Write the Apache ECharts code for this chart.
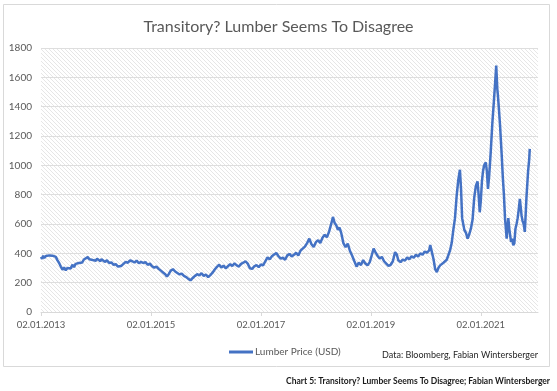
<!DOCTYPE html>
<html><head><meta charset="utf-8">
<script src="https://cdn.jsdelivr.net/npm/echarts@6/dist/echarts.min.js"></script>
<style>html,body{margin:0;padding:0;background:#fff}#c{width:557px;height:391px}</style>
</head><body><div id="c"></div>
<script>
// Decimal-year positions of the samples
const years = [
2013.00,2013.02,2013.04,2013.06,2013.09,2013.12,2013.15,2013.18,2013.21,2013.24,2013.27,2013.30,2013.33,2013.36,2013.39,2013.42,2013.45,2013.48,2013.51,2013.54,2013.57,2013.60,2013.63,2013.66,2013.69,2013.72,2013.75,2013.78,2013.81,2013.85,2013.88,2013.91,2013.94,2013.97,
2014.00,2014.02,2014.04,2014.08,2014.10,2014.12,2014.16,2014.20,2014.24,2014.28,2014.32,2014.36,2014.40,2014.43,2014.46,2014.50,2014.54,2014.58,2014.62,2014.66,2014.70,2014.74,2014.78,2014.82,2014.86,2014.90,2014.94,2014.98,
2015.02,2015.06,2015.10,2015.14,2015.18,2015.22,2015.26,2015.29,2015.32,2015.36,2015.40,2015.44,2015.48,2015.52,2015.56,2015.60,2015.64,2015.68,2015.72,2015.76,2015.80,2015.84,2015.88,2015.92,2015.96,
2016.00,2016.04,2016.08,2016.12,2016.16,2016.20,2016.24,2016.28,2016.32,2016.36,2016.40,2016.44,2016.48,2016.52,2016.56,2016.60,2016.64,2016.68,2016.72,2016.76,2016.80,2016.84,2016.88,2016.92,2016.96,
2017.00,2017.04,2017.08,2017.12,2017.16,2017.20,2017.24,2017.28,2017.32,2017.36,2017.40,2017.44,2017.48,2017.52,2017.56,2017.60,2017.64,2017.68,2017.72,2017.76,2017.80,2017.84,2017.88,2017.92,2017.96,
2018.00,2018.04,2018.08,2018.12,2018.16,2018.20,2018.24,2018.28,2018.31,2018.34,2018.37,2018.40,2018.43,2018.46,2018.50,2018.54,2018.58,2018.62,2018.66,2018.70,2018.74,2018.78,2018.82,2018.86,2018.90,2018.94,2018.98,
2019.02,2019.05,2019.08,2019.12,2019.16,2019.20,2019.24,2019.28,2019.32,2019.36,2019.40,2019.44,2019.47,2019.50,2019.54,2019.58,2019.62,2019.66,2019.70,2019.74,2019.78,2019.82,2019.86,2019.90,2019.94,2019.98,
2020.02,2020.06,2020.08,2020.11,2020.14,2020.17,2020.20,2020.23,2020.26,2020.29,2020.32,2020.35,2020.38,2020.41,2020.44,2020.47,2020.50,2020.53,2020.56,2020.59,2020.62,2020.64,2020.66,2020.68,2020.70,2020.73,2020.76,2020.79,2020.82,2020.85,2020.88,2020.91,2020.94,2020.96,2020.98,
2021.00,2021.02,2021.04,2021.06,2021.09,2021.11,2021.13,2021.15,2021.18,2021.21,2021.24,2021.26,2021.28,2021.30,2021.31,2021.33,2021.35,2021.38,2021.40,2021.42,2021.44,2021.47,2021.50,2021.52,2021.55,2021.57,2021.59,2021.61,2021.63,2021.65,2021.67,2021.69,2021.71,2021.73,2021.74,2021.76,2021.78,2021.80,2021.82,2021.83,2021.85,2021.86,2021.88,2021.89
];
// Lumber price (USD) at those positions
const prices = [
376,362,384,368,382,394,386,398,384,393,376,352,334,310,288,304,284,300,312,296,322,306,328,316,334,346,338,358,350,374,360,368,354,366,
350,364,352,346,360,358,342,352,334,338,322,326,310,300,314,328,342,336,352,346,338,350,332,342,334,340,322,330,
312,302,310,294,282,270,258,242,256,282,292,276,266,256,262,246,238,226,216,232,246,258,250,264,246,
256,238,252,268,290,308,322,304,316,298,312,326,314,332,318,310,328,336,346,330,298,294,312,320,306,
324,318,346,372,360,380,392,402,380,364,370,356,386,396,378,390,404,386,418,432,446,470,500,462,444,
476,490,470,506,526,510,548,602,648,608,592,560,576,540,470,442,466,416,384,346,310,336,320,354,330,318,340,
392,432,410,384,364,376,346,330,314,322,346,408,394,352,340,358,350,372,360,380,370,390,378,400,390,412,
404,420,456,408,360,292,272,302,318,310,336,326,356,364,420,470,560,640,790,900,970,840,640,600,560,540,500,530,570,630,780,860,890,800,680,
760,890,960,1000,1020,960,840,920,1090,1290,1450,1560,1680,1520,1480,1380,1270,1070,920,800,640,500,640,560,478,500,455,470,568,600,640,700,772,700,660,620,600,546,700,780,900,960,1040,1112
];
const seriesName = 'Lumber Price (USD)';
const xTickYears = [2013, 2015, 2017, 2019, 2021];
const xTickLabels = ['02.01.2013', '02.01.2015', '02.01.2017', '02.01.2019', '02.01.2021'];
const titleText = 'Transitory? Lumber Seems To Disagree';
const sourceText = 'Data: Bloomberg, Fabian Wintersberger';
const captionText = 'Chart 5: Transitory? Lumber Seems To Disagree; Fabian Wintersberger';

const FONT = 'Lato, "Open Sans", sans-serif';
// hatch pattern for plot area
const pc = document.createElement('canvas');
pc.width = 4; pc.height = 4;
const g = pc.getContext('2d');
g.fillStyle = '#ffffff'; g.fillRect(0, 0, 4, 4);
g.strokeStyle = '#e6e6e6'; g.lineWidth = 1;
g.beginPath(); g.moveTo(-1, -1); g.lineTo(5, 5); g.stroke();

const chart = echarts.init(document.getElementById('c'), null, {renderer: 'canvas'});
chart.setOption({
  animation: false,
  backgroundColor: '#ffffff',
  title: {
    text: titleText, left: 'center', top: 14,
    textStyle: {fontFamily: FONT, fontSize: 16, fontWeight: 'normal', color: '#595959'}
  },
  graphic: [
    {type: 'rect', z: -10, shape: {x: 3.5, y: 4.5, width: 546, height: 362},
     style: {fill: '#ffffff', stroke: '#d9d9d9', lineWidth: 1}},
    {type: 'text', x: 538, y: 355, style: {text: sourceText, align: 'right', verticalAlign: 'middle',
     font: '9px ' + FONT, fill: '#262626'}},
    {type: 'text', x: 550, y: 381, style: {text: captionText, align: 'right', verticalAlign: 'middle',
     font: 'bold 8.5px ' + FONT, fill: '#1a1a1a'}}
  ],
  legend: {
    left: 224, top: 342, icon: 'rect', itemWidth: 24, itemHeight: 3,
    textStyle: {fontFamily: FONT, fontSize: 10, color: '#595959', padding: [0, 0, 0, -3]},
    data: [seriesName]
  },
  grid: {
    left: 41, right: 19, top: 48, bottom: 79, show: true, borderWidth: 0,
    backgroundColor: {image: pc, repeat: 'repeat'}
  },
  xAxis: {
    type: 'value', min: 2013, max: 2022.04, interval: 2,
    axisLine: {lineStyle: {color: '#d9d9d9'}},
    axisTick: {show: true, length: 4, lineStyle: {color: '#d9d9d9'}, customValues: xTickYears},
    axisLabel: {
      customValues: xTickYears, color: '#595959', fontFamily: FONT, fontSize: 9.5, margin: 8,
      formatter: v => { const i = xTickYears.indexOf(Math.round(v)); return i >= 0 ? xTickLabels[i] : ''; }
    },
    splitLine: {show: false}
  },
  yAxis: {
    type: 'value', min: 0, max: 1800, interval: 200,
    axisLine: {show: false}, axisTick: {show: false},
    axisLabel: {color: '#595959', fontFamily: FONT, fontSize: 10, margin: 9, formatter: v => String(v)},
    splitLine: {lineStyle: {color: '#dedede'}}
  },
  series: [{
    name: seriesName, type: 'line', showSymbol: false, symbol: 'none',
    lineStyle: {color: '#4472C4', width: 2.5}, itemStyle: {color: '#4472C4'},
    data: years.map((y, i) => [y, prices[i]])
  }]
});
</script>
</body></html>
